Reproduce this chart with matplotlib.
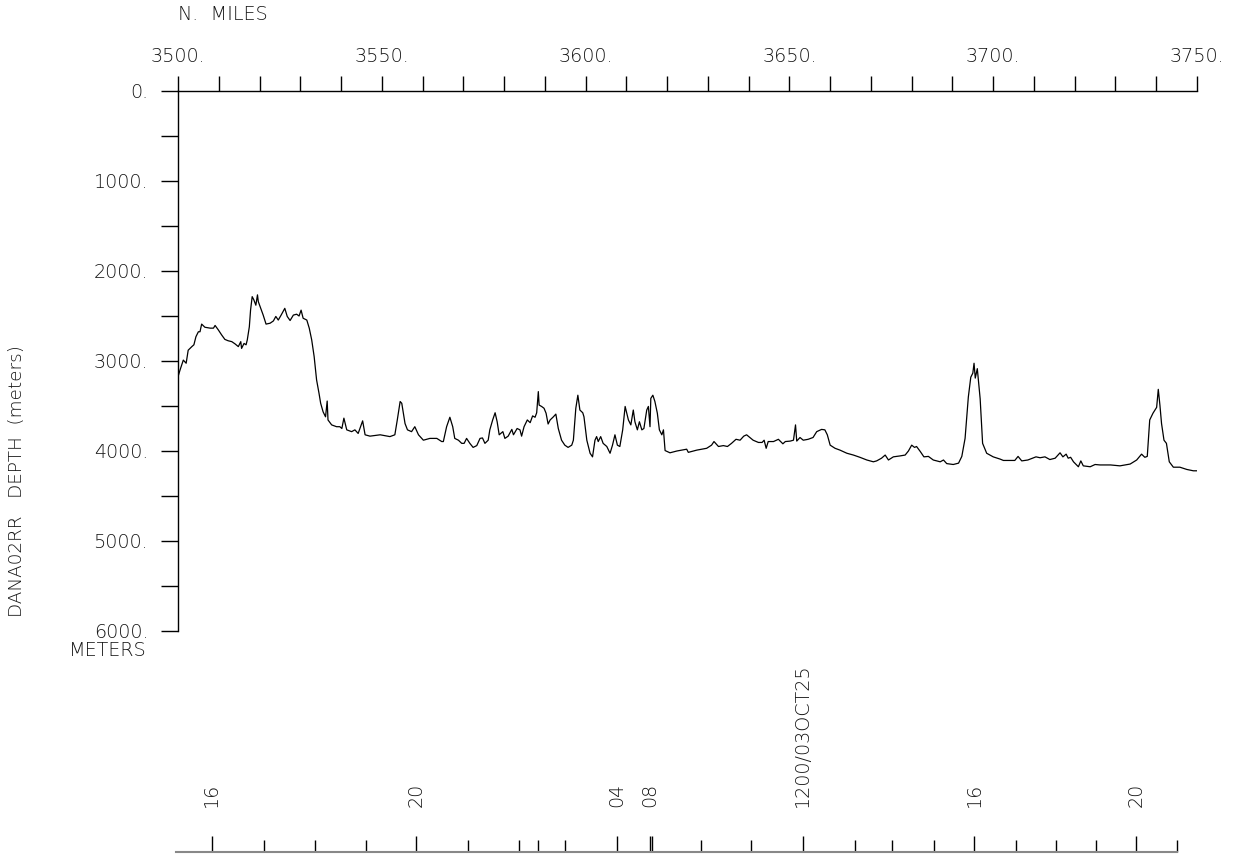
import matplotlib
matplotlib.use("Agg")
import matplotlib.pyplot as plt
from matplotlib.ticker import FixedLocator, FixedFormatter

# track distance (nautical miles) and depth (meters)
miles = [
    3500.0, 3500.5, 3501.3, 3502.0, 3502.5, 3503.4, 3503.9, 3504.4, 3505.0, 3505.4,
    3505.8, 3506.6, 3507.9, 3508.7, 3509.1, 3509.9, 3510.7, 3511.5, 3512.3, 3513.2,
    3514.0, 3514.8, 3515.4, 3515.6, 3516.2, 3516.7, 3517.0, 3517.5, 3517.8, 3518.2,
    3518.6, 3519.1, 3519.5, 3519.7, 3520.3, 3520.9, 3521.6, 3522.6, 3523.4, 3524.0,
    3524.6, 3525.3, 3526.2, 3526.8, 3527.5, 3528.3, 3529.1, 3529.7, 3530.2, 3530.7,
    3531.6, 3532.2, 3532.8, 3533.4, 3534.0, 3534.6, 3535.0, 3535.6, 3536.2, 3536.6,
    3536.8, 3537.7, 3538.9, 3539.7, 3540.2, 3540.7, 3541.4, 3542.6, 3543.4, 3544.2,
    3545.3, 3545.9, 3547.1, 3549.6, 3552.0, 3553.2, 3553.8, 3554.5, 3554.9, 3555.3,
    3555.7, 3556.3, 3557.3, 3558.1, 3559.0, 3560.2, 3561.8, 3563.5, 3564.7, 3565.1,
    3565.9, 3566.7, 3567.4, 3567.9, 3568.8, 3569.6, 3570.2, 3570.8, 3571.6, 3572.4,
    3573.3, 3574.1, 3574.7, 3575.3, 3576.1, 3576.5, 3577.2, 3577.8, 3578.3, 3578.8,
    3579.7, 3580.2, 3581.0, 3581.9, 3582.3, 3583.2, 3583.9, 3584.3, 3584.9, 3585.7,
    3586.4, 3587.0, 3587.6, 3588.0, 3588.4, 3588.6, 3589.2, 3589.8, 3590.3, 3590.8,
    3591.3, 3592.1, 3592.7, 3593.3, 3594.1, 3594.9, 3595.7, 3596.6, 3597.0, 3597.6,
    3598.1, 3598.6, 3599.3, 3599.6, 3600.3, 3601.1, 3601.7, 3602.3, 3602.7, 3603.1,
    3603.7, 3604.3, 3605.2, 3606.0, 3606.6, 3607.2, 3607.8, 3608.4, 3609.1, 3609.7,
    3610.5, 3611.1, 3611.7, 3612.1, 3612.7, 3613.2, 3613.8, 3614.3, 3615.0, 3615.4,
    3615.8, 3616.0, 3616.5, 3617.0, 3617.6, 3618.1, 3618.7, 3619.1, 3619.5, 3620.7,
    3622.4, 3624.8, 3625.2, 3627.3, 3629.7, 3630.9, 3631.5, 3632.6, 3633.8, 3634.8,
    3635.8, 3636.9, 3637.9, 3638.8, 3639.5, 3640.3, 3641.1, 3642.4, 3643.3, 3643.8,
    3644.3, 3644.8, 3646.1, 3647.3, 3648.4, 3649.0, 3650.2, 3651.0, 3651.5, 3651.8,
    3652.6, 3653.4, 3654.6, 3655.8, 3656.7, 3657.9, 3658.7, 3659.3, 3660.0, 3661.2,
    3662.4, 3664.1, 3665.7, 3667.3, 3669.0, 3670.6, 3671.4, 3672.6, 3673.5, 3674.3,
    3675.5, 3677.1, 3678.4, 3679.2, 3680.0, 3680.7, 3681.2, 3682.1, 3683.0, 3684.1,
    3685.3, 3687.0, 3687.8, 3688.6, 3690.2, 3691.5, 3692.3, 3693.1, 3693.9, 3694.5,
    3695.0, 3695.3, 3695.6, 3696.1, 3696.8, 3697.4, 3698.4, 3700.0, 3701.7, 3702.5,
    3704.1, 3705.3, 3706.1, 3707.0, 3708.5, 3710.5, 3711.5, 3712.7, 3713.9, 3715.2,
    3716.4, 3717.1, 3717.9, 3718.4, 3719.0, 3719.7, 3720.9, 3721.5, 3722.1, 3723.8,
    3725.0, 3726.2, 3728.8, 3731.1, 3733.6, 3735.2, 3736.4, 3737.2, 3737.8, 3738.4,
    3739.2, 3740.1, 3740.5, 3740.9, 3741.3, 3741.9, 3742.5, 3743.2, 3744.2, 3745.8,
    3747.5, 3749.1, 3750.0,
]
depth = [
    3175, 3100, 2990, 3025, 2880, 2840, 2820, 2730, 2675, 2675,
    2590, 2625, 2635, 2635, 2605, 2655, 2710, 2760, 2775, 2785,
    2810, 2840, 2785, 2860, 2805, 2820, 2765, 2620, 2435, 2285,
    2320, 2380, 2265, 2340, 2415, 2490, 2590, 2580, 2555, 2505,
    2545, 2490, 2415, 2505, 2550, 2490, 2480, 2500, 2435, 2525,
    2545, 2635, 2765, 2950, 3210, 3360, 3470, 3565, 3620, 3445,
    3655, 3710, 3730, 3730, 3750, 3635, 3765, 3785, 3765, 3805,
    3665, 3820, 3835, 3820, 3840, 3820, 3655, 3450, 3470, 3580,
    3695, 3765, 3785, 3730, 3820, 3880, 3860, 3860, 3895, 3895,
    3730, 3625, 3730, 3860, 3880, 3915, 3915, 3860, 3915, 3960,
    3940, 3860, 3855, 3915, 3880, 3765, 3655, 3575, 3675, 3820,
    3785, 3860, 3835, 3760, 3820, 3750, 3765, 3835, 3730, 3655,
    3685, 3610, 3625, 3575, 3340, 3490, 3505, 3525, 3580, 3700,
    3655, 3620, 3590, 3750, 3880, 3935, 3960, 3935, 3880, 3525,
    3380, 3545, 3575, 3620, 3880, 4025, 4065, 3880, 3840, 3895,
    3840, 3915, 3950, 4025, 3935, 3820, 3935, 3950, 3765, 3505,
    3655, 3710, 3545, 3675, 3765, 3675, 3765, 3750, 3545, 3505,
    3730, 3415, 3380, 3450, 3580, 3765, 3820, 3765, 3995, 4020,
    4000, 3980, 4015, 3990, 3970, 3935, 3895, 3950, 3940, 3950,
    3915, 3870, 3880, 3835, 3820, 3850, 3880, 3905, 3905, 3880,
    3970, 3895, 3895, 3870, 3920, 3895, 3890, 3880, 3710, 3890,
    3850, 3880, 3870, 3850, 3785, 3760, 3765, 3820, 3935, 3970,
    3990, 4025, 4045, 4070, 4100, 4120, 4110, 4080, 4045, 4100,
    4065, 4055, 4045, 4000, 3935, 3960, 3950, 4005, 4065, 4060,
    4100, 4120, 4100, 4140, 4150, 4135, 4060, 3860, 3400, 3180,
    3135, 3025, 3190, 3085, 3420, 3915, 4025, 4065, 4090, 4105,
    4105, 4105, 4060, 4110, 4100, 4065, 4075, 4065, 4095, 4080,
    4020, 4065, 4035, 4080, 4070, 4120, 4175, 4110, 4165, 4175,
    4150, 4155, 4155, 4165, 4145, 4100, 4035, 4070, 4060, 3655,
    3580, 3515, 3315, 3490, 3695, 3880, 3915, 4120, 4180, 4180,
    4205, 4220, 4220,
]

# axis ticks
mile_ticks = list(range(3500, 3751, 10))
mile_labels = ["3500.", "3550.", "3600.", "3650.", "3700.", "3750."]
depth_ticks = list(range(0, 6001, 500))
depth_labels = ["0.", "1000.", "2000.", "3000.", "4000.", "5000.", "6000."]

# time annotations along the track (position in miles)
time_major = [3508.3, 3558.4, 3607.7, 3615.8, 3616.3, 3653.3, 3695.3, 3735.0]
time_labels = ["16", "20", "04", "08", "", "1200/03OCT25", "16", "20"]
time_minor = [3521.1, 3533.6, 3546.1, 3571.1, 3583.7, 3588.3, 3594.9, 3628.3,
              3640.7, 3666.1, 3675.2, 3685.4, 3705.6, 3715.4, 3725.2, 3745.0]

plt.rcParams["font.family"] = "DejaVu Sans"
plt.rcParams["font.weight"] = "light"
txt = "#151515"
fs = 13.8

W, H = 1233, 856
fig = plt.figure(figsize=(W / 100, H / 100), dpi=100)

x0, x1, y0, y1 = 178, 1197, 91, 631
ax = fig.add_axes([x0 / W, 1 - y1 / H, (x1 - x0) / W, (y1 - y0) / H])
ax.plot(miles, depth, color="black", lw=0.9)
ax.set_xlim(3500, 3750)
ax.set_ylim(6000, 0)

for s in ["right", "bottom"]:
    ax.spines[s].set_visible(False)
for s in ["top", "left"]:
    ax.spines[s].set_linewidth(1.0)

ax.xaxis.set_ticks_position("top")
ax.xaxis.set_major_locator(FixedLocator(mile_ticks))
ax.xaxis.set_major_formatter(FixedFormatter(
    [mile_labels[i // 5] if i % 5 == 0 else "" for i in range(len(mile_ticks))]))
ax.tick_params(axis="x", direction="out", length=10.8, width=1.0, pad=7,
               labelsize=fs, labelcolor=txt)

ax.yaxis.set_major_locator(FixedLocator(depth_ticks))
ax.yaxis.set_major_formatter(FixedFormatter(
    [depth_labels[i // 2] if i % 2 == 0 else "" for i in range(len(depth_ticks))]))
ax.tick_params(axis="y", direction="out", length=12, width=1.0, pad=9.5,
               labelsize=fs, labelcolor=txt)

fig.text(178 / W, 1 - 15 / H, "N.  MILES", ha="left", va="center",
         fontsize=fs, color=txt)
fig.text(146 / W, 1 - 650 / H, "METERS", ha="right", va="center",
         fontsize=fs, color=txt)
fig.text(17 / W, 1 - 481 / H, "DANA02RR   DEPTH  (meters)", rotation=90,
         ha="center", va="center", fontsize=13.2, color=txt)

# time axis along the bottom
ty = 852
ax2 = fig.add_axes([x0 / W, 1 - ty / H - 0.002, (x1 - x0) / W, 0.002])
ax2.set_xlim(3500, 3750)
ax2.set_yticks([])
for s in ["left", "right", "bottom"]:
    ax2.spines[s].set_visible(False)
ax2.spines["top"].set_color("#888888")
ax2.spines["top"].set_linewidth(1.5)
ax2.spines["top"].set_bounds(3499.5, 3745)
ax2.patch.set_visible(False)
ax2.xaxis.set_ticks_position("top")
ax2.xaxis.set_major_locator(FixedLocator(time_major))
ax2.xaxis.set_major_formatter(FixedFormatter(time_labels))
ax2.xaxis.set_minor_locator(FixedLocator(time_minor))
ax2.tick_params(axis="x", which="major", direction="out", length=11.5, width=1.0,
                pad=21, labelsize=fs, labelcolor=txt, labelrotation=90,
                color="black")
ax2.tick_params(axis="x", which="minor", direction="out", length=8.6, width=1.0,
                color="black")

fig.savefig("out.png", dpi=100, facecolor="white")
